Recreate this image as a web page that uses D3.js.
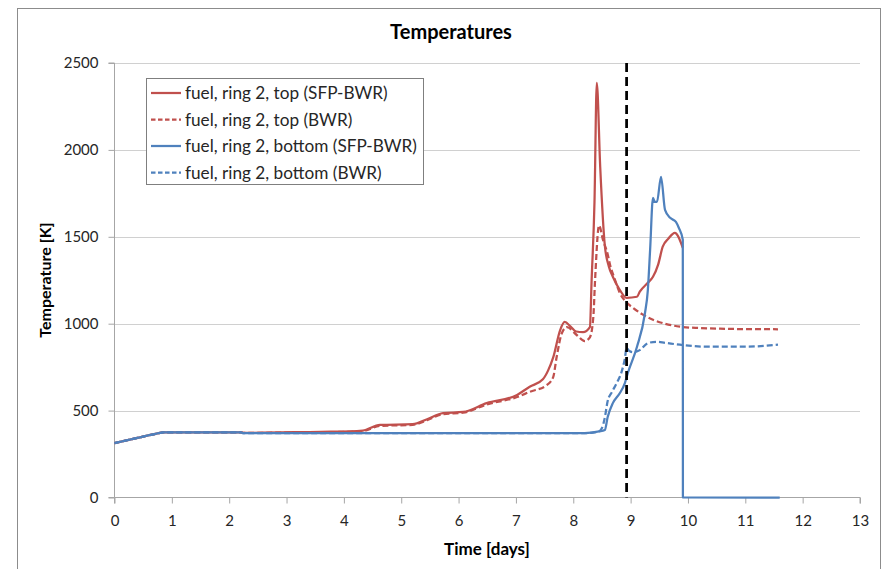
<!DOCTYPE html>
<html>
<head>
<meta charset="utf-8">
<script src="https://cdn.jsdelivr.net/npm/d3@7/dist/d3.min.js"></script>
<style>
  html, body { margin: 0; padding: 0; background: #fff; }
  svg { display: block; font-family: Lato, "Open Sans", sans-serif; }
</style>
</head>
<body>
<svg id="chart" width="885" height="569"></svg>
<script>
// ---- data ----
const chartTitle = "Temperatures";
const xLabel = "Time [days]";
const yLabel = "Temperature [K]";
const xTicks = [0,1,2,3,4,5,6,7,8,9,10,11,12,13];
const yTicks = [0,500,1000,1500,2000,2500];
const seriesNames = [
  "fuel, ring 2, top (SFP-BWR)",
  "fuel, ring 2, top (BWR)",
  "fuel, ring 2, bottom (SFP-BWR)",
  "fuel, ring 2, bottom (BWR)"
];

const redSolidDays = [0,0.4,0.8,0.85,0.9,2.2,2.25,3.6,4.1,4.33,4.63,5.2,5.45,5.73,6.08,6.49,7.02,7.24,7.47,7.56,7.65,7.77,7.85,7.95,8.05,8.17,8.29,8.32,8.37,8.41,8.47,8.55,8.62,8.69,8.81,8.93,9.11,9.16,9.30,9.39,9.48,9.56,9.66,9.77,9.91];
const redSolidTemp = [313,343,372,375,375,375,372,378,380,385,418,422,450,485,492,543,590,637,680,730,806,962,1010,985,955,951,980,1250,1700,2385,1900,1450,1330,1270,1195,1149,1155,1184,1235,1270,1340,1443,1490,1523,1437];

const redDashDays = [0,0.4,0.8,0.85,0.9,2.2,2.25,3.6,4.1,4.33,4.63,5.2,5.45,5.73,6.08,6.49,7.02,7.24,7.54,7.65,7.71,7.80,7.89,8.06,8.20,8.29,8.35,8.38,8.45,8.52,8.60,8.64,8.72,8.81,8.92,9.04,9.20,9.39,9.60,9.86,10.2,10.56,11.0,11.57];
const redDashTemp = [313,343,372,375,375,375,372,376,378,382,412,418,445,480,488,535,578,608,647,693,808,945,981,935,900,922,1039,1250,1565,1480,1400,1340,1260,1178,1125,1092,1055,1023,1000,983,975,971,969,968];

const blueSolidDays = [0,0.4,0.8,0.85,0.9,2.2,2.25,8.2,8.45,8.55,8.60,8.69,8.81,8.90,8.95,9.11,9.25,9.30,9.34,9.39,9.42,9.46,9.53,9.60,9.69,9.79,9.84,9.91,9.912,11.6];
const blueSolidTemp = [313,343,372,375,375,375,370,370,380,388,463,543,600,658,715,866,1060,1192,1425,1724,1701,1701,1845,1655,1609,1586,1552,1483,0,0];

const blueDashDays = [0,0.4,0.8,0.85,0.9,2.2,2.25,8.2,8.43,8.50,8.55,8.60,8.68,8.76,8.84,8.90,8.93,8.97,9.04,9.16,9.30,9.45,9.60,9.86,10.33,11.0,11.57];
const blueDashTemp = [313,343,372,375,375,375,370,370,378,400,460,555,610,660,720,800,860,845,836,848,888,896,890,879,868,868,879];

const markerDays = [8.93];

// ---- layout ----
const svg = d3.select("#chart");
const plot = { left: 114.5, right: 860, top: 63, bottom: 497.5 };
const red = "#C0504D", blue = "#4F81BD";

const x = d3.scaleLinear().domain([0, 13]).range([plot.left, plot.right]);
const y = d3.scaleLinear().domain([0, 2500]).range([plot.bottom, plot.top]);

// outer frame
svg.append("rect").attr("x", 17.5).attr("y", 8.5).attr("width", 863).attr("height", 580)
  .attr("fill", "none").attr("stroke", "#8c8c8c").attr("stroke-width", 1);

// gridlines
svg.append("g").selectAll("line").data(yTicks.filter(d => d > 0)).join("line")
  .attr("x1", plot.left).attr("x2", plot.right)
  .attr("y1", d => Math.round(y(d)) + 0.5).attr("y2", d => Math.round(y(d)) + 0.5)
  .attr("stroke", "#d0d0d0").attr("stroke-width", 1);

// axes
const xAxis = d3.axisBottom(x).tickValues(xTicks).tickSize(6).tickPadding(12).tickFormat(d3.format("d"));
const yAxis = d3.axisLeft(y).tickValues(yTicks).tickSize(6).tickPadding(10).tickFormat(d3.format("d"));

const gx = svg.append("g").attr("transform", `translate(0,${plot.bottom})`).call(xAxis);
const gy = svg.append("g").attr("transform", `translate(${plot.left},0)`).call(yAxis);
[gx, gy].forEach(g => {
  g.select(".domain").attr("stroke", "#a6a6a6");
  g.selectAll(".tick line").attr("stroke", "#a6a6a6");
  g.selectAll(".tick text").attr("fill", "#262626").style("font-size", "15px").style("font-family", "Lato, sans-serif");
});
gx.select(".domain").attr("d", `M${plot.left},6V0H${plot.right}V6`);
gy.select(".domain").attr("d", `M-6,${plot.top}H0V${plot.bottom}H-6`);

// series
const series = [
  { days: redSolidDays, temp: redSolidTemp, color: red, dash: null },
  { days: redDashDays, temp: redDashTemp, color: red, dash: "6,3" },
  { days: blueSolidDays, temp: blueSolidTemp, color: blue, dash: null },
  { days: blueDashDays, temp: blueDashTemp, color: blue, dash: "6,3" }
];
const line = d3.line().curve(d3.curveMonotoneX).x(d => x(d[0])).y(d => y(d[1]));
series.forEach(s => {
  const pts = s.days.map((d, i) => [d, s.temp[i]]);
  svg.append("path").datum(pts).attr("d", line)
    .attr("fill", "none").attr("stroke", s.color).attr("stroke-width", 2.25)
    .attr("stroke-linejoin", "round")
    .attr("stroke-dasharray", s.dash);
});

// vertical dashed marker
svg.append("g").selectAll("line").data(markerDays).join("line")
  .attr("x1", d => x(d)).attr("x2", d => x(d))
  .attr("y1", y(2500)).attr("y2", y(0))
  .attr("stroke", "#000").attr("stroke-width", 2.75).attr("stroke-dasharray", "9,5");

// legend
const lg = svg.append("g");
lg.append("rect").attr("x", 146.5).attr("y", 78.5).attr("width", 277).attr("height", 106)
  .attr("fill", "#fff").attr("stroke", "#7f7f7f").attr("stroke-width", 1);
const rowY = [93, 119.5, 146, 172.5];
series.forEach((s, i) => {
  lg.append("line").attr("x1", 151).attr("x2", 181).attr("y1", rowY[i]).attr("y2", rowY[i])
    .attr("stroke", s.color).attr("stroke-width", 2.25).attr("stroke-dasharray", s.dash ? "4.5,2.5" : null);
  lg.append("text").attr("x", 185).attr("y", rowY[i]).attr("dy", "0.35em")
    .attr("fill", "#262626").style("font-size", "17.2px").text(seriesNames[i]);
});

// titles
svg.append("text").attr("x", 451).attr("y", 32).attr("dy", "0.35em").attr("text-anchor", "middle")
  .style("font-size", "20px").style("font-weight", "bold").attr("fill", "#000").text(chartTitle);
svg.append("text").attr("x", 487).attr("y", 549).attr("dy", "0.35em").attr("text-anchor", "middle")
  .style("font-size", "17px").style("font-weight", "bold").attr("fill", "#000").text(xLabel);
svg.append("text").attr("transform", "translate(45,280) rotate(-90)").attr("dy", "0.35em").attr("text-anchor", "middle")
  .style("font-size", "16px").style("font-weight", "bold").attr("fill", "#000").text(yLabel);
</script>
</body>
</html>
